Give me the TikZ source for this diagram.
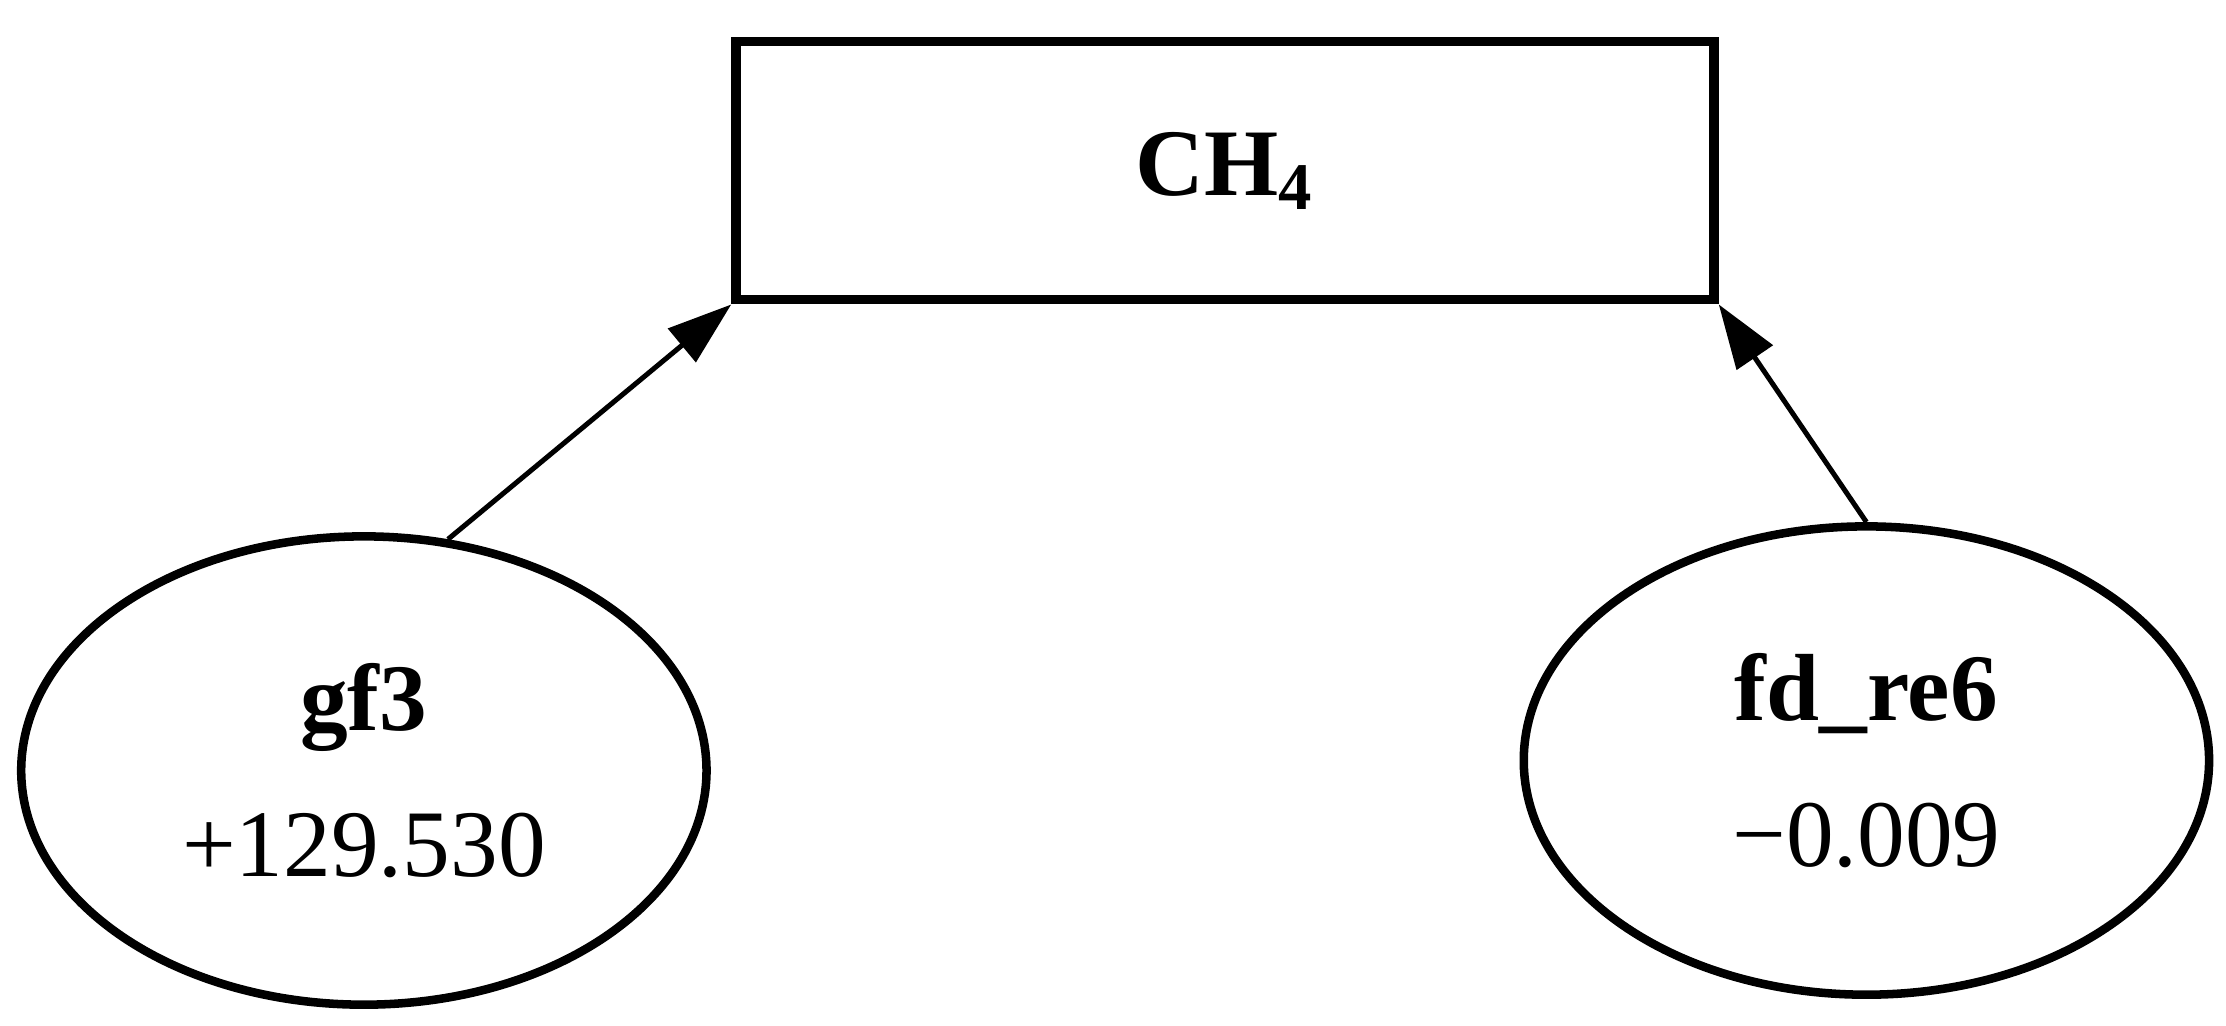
\documentclass[tikz,border=0pt]{standalone}
\usepackage{fontspec}
\setmainfont{Liberation Serif}
\usetikzlibrary{shapes.geometric,arrows.meta}
\begin{document}
\begin{tikzpicture}[x=0.01cm,y=-0.01cm,
  box/.style={draw,line width=1.9pt,minimum width=6.85cm,minimum height=1.81cm,inner sep=0pt},
  ell/.style={draw,ellipse,line width=1.7pt,minimum width=4.8cm,minimum height=3.28cm,inner sep=0pt,align=center,font=\fontsize{19}{29}\selectfont},
  arr/.style={line width=1pt,-{Triangle[length=0.45cm,width=0.3cm]}}]
\useasboundingbox (0,0) rectangle (1560,719);
\node[box,font=\fontsize{19}{22}\selectfont\bfseries] (ch) at (858.5,119.5) {CH\textsubscript{4}};
\node[ell] (gf) at (255,540) {\textbf{gf3}\\+129.530};
\node[ell] (fd) at (1308,533) {\textbf{fd\_re6}\\−0.009};
\draw[arr] (gf.70) -- (ch.south west);
\draw[arr] (fd.north) -- (ch.south east);
\end{tikzpicture}
\end{document}
